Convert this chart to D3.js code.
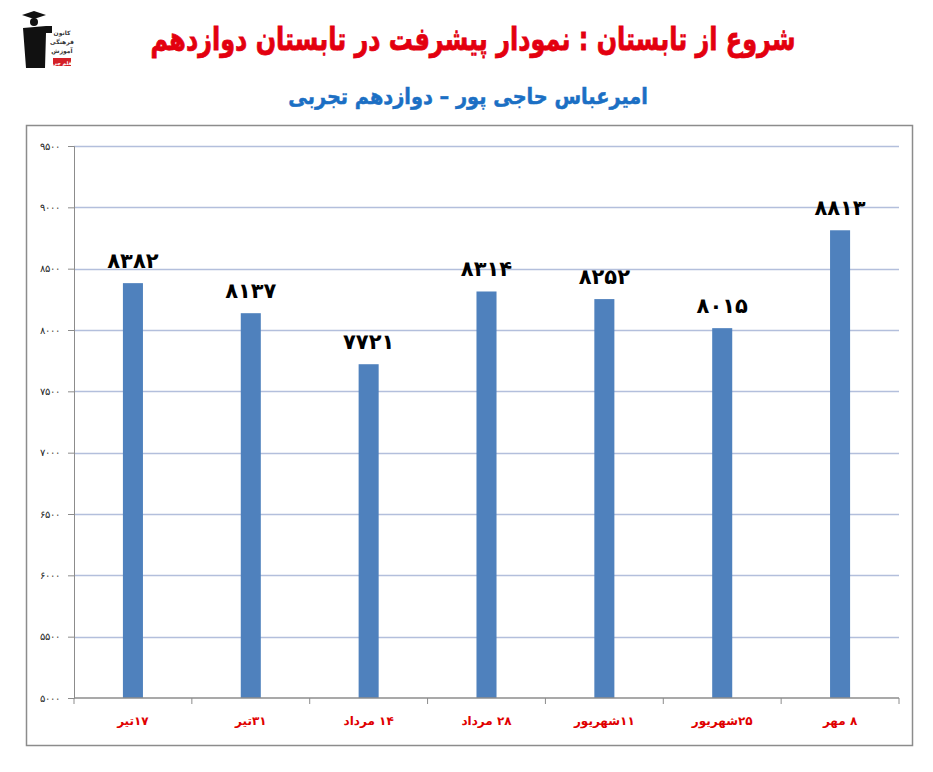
<!DOCTYPE html>
<html lang="fa">
<head>
<meta charset="UTF-8">
<title>نمودار پیشرفت در تابستان</title>
<script src="https://d3js.org/d3.v7.min.js"></script>
<style>
  body { margin: 0; background: #fff; }
  svg { display: block; font-family: "DejaVu Sans", sans-serif; }
</style>
</head>
<body>
<svg width="933" height="772"></svg>
<script>
// data
const categories = ['۱۷تیر', '۳۱تیر', '۱۴ مرداد', '۲۸ مرداد', '۱۱شهریور', '۲۵شهریور', '۸ مهر'];
const scores = [8382, 8137, 7721, 8314, 8252, 8015, 8813];
const yTicks = [5000, 5500, 6000, 6500, 7000, 7500, 8000, 8500, 9000, 9500];

const titleText = 'شروع از تابستان : نمودار پیشرفت در تابستان دوازدهم';
const subtitleText = 'امیرعباس حاجی پور – دوازدهم تجربی';

const faDigits = '۰۱۲۳۴۵۶۷۸۹';
const fa = n => String(n).replace(/\d/g, d => faDigits[+d]);

const svg = d3.select('svg');

// squeeze a centred text horizontally to a given width (original font is condensed)
function fitWidth(sel, cx, w) {
    const natural = sel.node().getComputedTextLength();
    const k = Math.min(1, w / natural);
    sel.attr('x', 0).attr('transform', `translate(${cx},0) scale(${k},1)`);
}

const title = svg.append('text')
    .attr('y', 50)
    .attr('text-anchor', 'middle')
    .style('direction', 'rtl')
    .attr('font-size', 32).attr('font-weight', 'bold')
    .attr('fill', '#e3000f').attr('stroke', '#e3000f').attr('stroke-width', 0.8)
    .text(titleText);
fitWidth(title, 473, 645);

const subtitle = svg.append('text')
    .attr('y', 104)
    .attr('text-anchor', 'middle')
    .style('direction', 'rtl')
    .attr('font-size', 22).attr('font-weight', 'bold')
    .attr('fill', '#1b6fc4').attr('stroke', '#1b6fc4').attr('stroke-width', 0.5)
    .text(subtitleText);
fitWidth(subtitle, 468, 360);

// little logo, top left
const logo = svg.append('g').attr('transform', 'translate(18,8)');
logo.append('path').attr('d', 'M4,7 L16,3 L28,7 L16,11 Z').attr('fill', '#111');
logo.append('circle').attr('cx', 16).attr('cy', 14).attr('r', 4).attr('fill', '#111');
logo.append('path').attr('d', 'M5,20 L28,18 L34,18 L34,25 L28,25 L27,60 L8,60 Z').attr('fill', '#111');
['کانون', 'فرهنگی', 'آموزش'].forEach((t, i) => {
    logo.append('text').attr('x', 44).attr('y', 27 + i * 9)
        .attr('text-anchor', 'middle').attr('font-size', 6).attr('font-weight', 'bold')
        .attr('fill', '#333').text(t);
});
logo.append('rect').attr('x', 35).attr('y', 50).attr('width', 18).attr('height', 8).attr('fill', '#d42027');
logo.append('text').attr('x', 44).attr('y', 56.5).attr('text-anchor', 'middle')
    .attr('font-size', 5).attr('font-weight', 'bold').attr('fill', '#fff').text('قلم چی');

// chart frame
svg.append('rect')
    .attr('x', 26.5).attr('y', 125.5).attr('width', 886).attr('height', 620)
    .attr('fill', 'none').attr('stroke', '#8c8c8c').attr('stroke-width', 1.5);

const margin = { left: 74, right: 899, top: 146, bottom: 698 };

const x = d3.scaleBand()
    .domain(categories)
    .range([margin.left, margin.right])
    .paddingInner(0.83).paddingOuter(0.415);

const xTicksScale = d3.scaleBand().domain(categories).range([margin.left, margin.right]);

const y = d3.scaleLinear()
    .domain([5000, 9500])
    .range([margin.bottom, margin.top]);

// gridlines
svg.append('g').selectAll('line')
    .data(yTicks.slice(1))
    .join('line')
    .attr('x1', margin.left).attr('x2', margin.right)
    .attr('y1', d => Math.round(y(d)) + 0.5).attr('y2', d => Math.round(y(d)) + 0.5)
    .attr('stroke', '#b3bfdc').attr('stroke-width', 1.3);

// y axis
const yAxis = svg.append('g')
    .attr('transform', `translate(${margin.left},0)`)
    .call(d3.axisLeft(y).tickValues(yTicks).tickSize(6).tickPadding(8).tickFormat(fa));
yAxis.selectAll('line, path').attr('stroke', '#8c8c8c');
yAxis.selectAll('text').attr('font-size', 10).attr('fill', '#222');

// bars
svg.append('g').selectAll('rect')
    .data(scores)
    .join('rect')
    .attr('x', (d, i) => x(categories[i]))
    .attr('width', x.bandwidth())
    .attr('y', d => y(d))
    .attr('height', d => y(5000) - y(d))
    .attr('fill', '#4f81bd');

// value labels
svg.append('g').selectAll('text')
    .data(scores)
    .join('text')
    .attr('x', (d, i) => x(categories[i]) + x.bandwidth() / 2)
    .attr('y', d => y(d) - 15)
    .attr('text-anchor', 'middle')
    .attr('font-size', 21).attr('font-weight', 'bold')
    .attr('fill', '#000')
    .text(fa);

// x axis
const xAxisG = svg.append('g').attr('transform', `translate(0,${margin.bottom})`);
xAxisG.append('line')
    .attr('x1', margin.left).attr('x2', margin.right)
    .attr('stroke', '#8c8c8c').attr('stroke-width', 1.3);
xAxisG.selectAll('line.tick')
    .data(categories.concat(['end']))
    .join('line')
    .attr('class', 'tick')
    .attr('x1', (d, i) => i < categories.length ? xTicksScale(d) : margin.right)
    .attr('x2', (d, i) => i < categories.length ? xTicksScale(d) : margin.right)
    .attr('y1', 0).attr('y2', 6)
    .attr('stroke', '#8c8c8c');
xAxisG.selectAll('text.cat')
    .data(categories)
    .join('text')
    .attr('class', 'cat')
    .attr('x', d => xTicksScale(d) + xTicksScale.bandwidth() / 2)
    .attr('y', 27)
    .attr('text-anchor', 'middle')
    .style('direction', 'rtl')
    .attr('font-size', 12).attr('font-weight', 'bold')
    .attr('fill', '#e00000')
    .text(d => d);
</script>
</body>
</html>
